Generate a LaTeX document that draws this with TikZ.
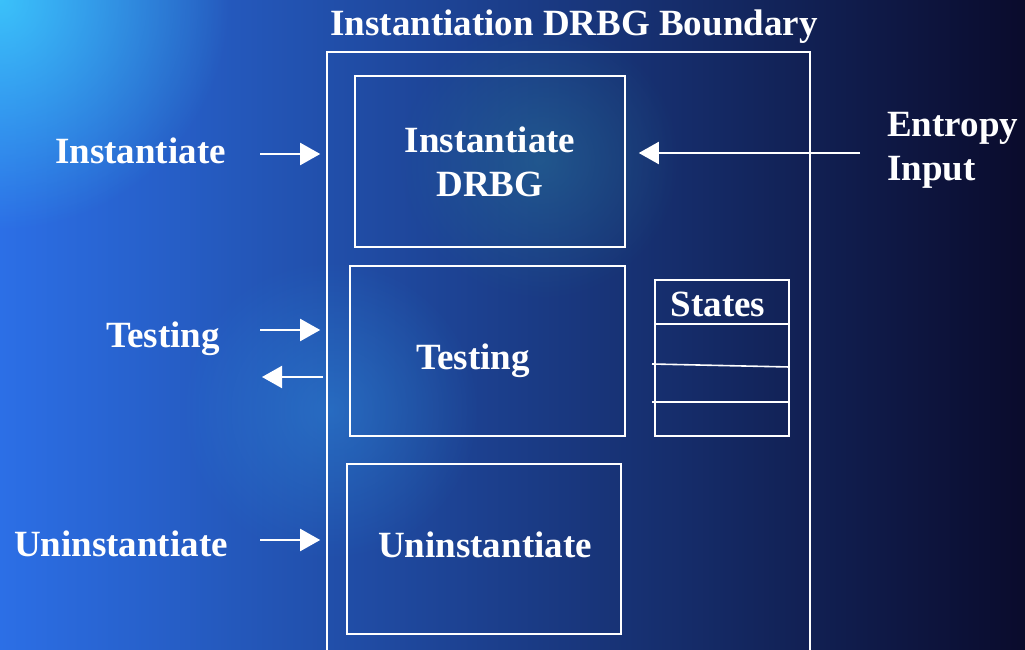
\documentclass[tikz,border=0pt]{standalone}
\usepackage{fontspec}
\setmainfont{Liberation Serif}
\usetikzlibrary{arrows.meta,fadings}

\definecolor{bgleft}{HTML}{2C6FE6}
\definecolor{bgmid}{HTML}{1C3C9C}
\definecolor{bgright}{HTML}{0A0B2C}
\definecolor{glow}{HTML}{3FD6FF}
\definecolor{teal}{HTML}{2A7A9A}
\tikzfading[name=glowfade,inner color=transparent!0,outer color=transparent!100]

\begin{document}
\begin{tikzpicture}[x=1pt,y=-1pt,
   every node/.style={text=white,inner sep=0pt,font=\bfseries\fontsize{37}{44}\selectfont},
   box/.style={draw=white,line width=1.6pt},
   lbl/.style={anchor=base east},
   arr/.style={-{Triangle[length=20pt,width=22pt]},draw=white,line width=2pt}]
\useasboundingbox (0,0) rectangle (1025,650);
\clip (0,0) rectangle (1025,650);
\shade[left color=bgleft,middle color=bgmid,right color=bgright] (0,0) rectangle (1025,650);
\fill[glow,path fading=glowfade,opacity=.8] (0,0) circle (230);
\fill[glow!60!bgleft,path fading=glowfade,opacity=.3] (330,410) circle (150);
\fill[teal,path fading=glowfade,opacity=.45] (540,160) circle (140);

\node[anchor=base] (title) at (574,36) {Instantiation DRBG Boundary};
\node[box,minimum width=483pt,minimum height=608pt] (bound) at (568.5,356) {};

\node[box,align=center,minimum width=270pt,minimum height=171pt] (inst) at (490,161.5) {Instantiate\\DRBG};
\node[box,minimum width=275pt,minimum height=170pt] (test) at (487.5,351) {};
\node[anchor=base] (testtxt) at (473,369) {Testing};
\node[box,minimum width=274pt,minimum height=170pt] (uninst) at (484,549) {};
\node[anchor=base] (uninsttxt) at (485,557) {Uninstantiate};

\node[box,minimum width=134pt,minimum height=156pt] (states) at (722,358) {};
\node[anchor=base] (statestxt) at (718,316) {States};
\draw[box] (states.west |- 0,324) -- (states.east |- 0,324);
\draw[box] (652,364) -- (states.east |- 0,367);
\draw[box] (652,402) -- (states.east |- 0,402);

\node[lbl] (lblinst) at (226,163) {Instantiate};
\node[lbl] (lbltest) at (220,347) {Testing};
\node[lbl] (lbluninst) at (228,556) {Uninstantiate};
\node[anchor=north west,align=left] (entropy) at (887,112) {Entropy\\Input};

\coordinate (ininst) at (260,154);
\coordinate (intest) at (260,330);
\coordinate (outtest) at (262,377);
\coordinate (inuninst) at (260,540);
\coordinate (inent) at (860,153);
\draw[arr,shorten >=6pt] (ininst) -- (ininst -| bound.west);
\draw[arr,shorten >=6pt] (intest) -- (intest -| bound.west);
\draw[arr,shorten <=3pt] (outtest -| bound.west) -- (outtest);
\draw[arr,shorten >=6pt] (inuninst) -- (inuninst -| bound.west);
\draw[arr,shorten >=13pt] (inent) -- (inent -| inst.east);
\end{tikzpicture}
\end{document}
